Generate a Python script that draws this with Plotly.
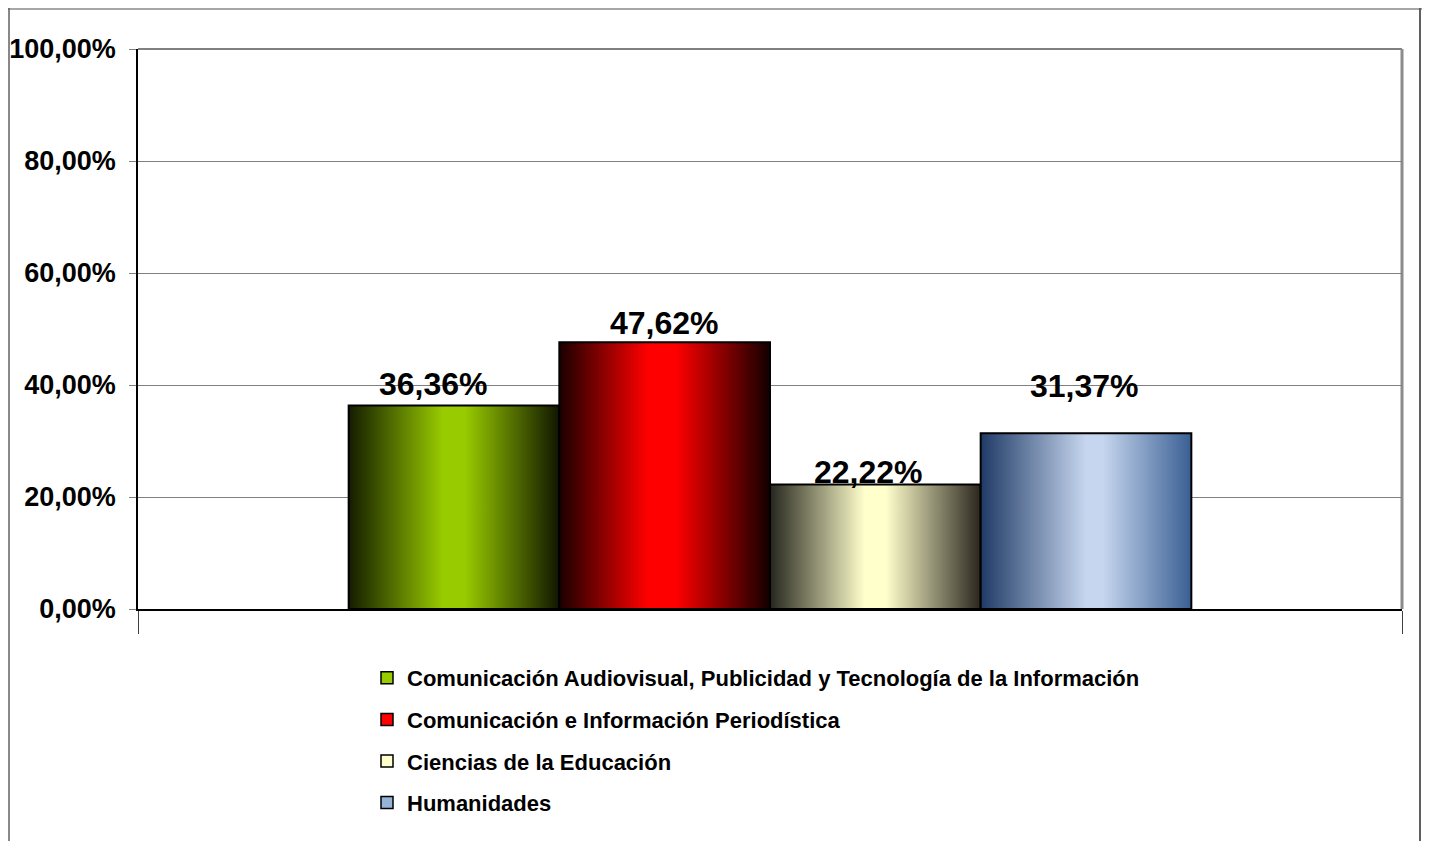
import plotly.graph_objects as go

# series (one category, four programmes)
series = [
    "Comunicación Audiovisual, Publicidad y Tecnología de la Información",
    "Comunicación e Información Periodística",
    "Ciencias de la Educación",
    "Humanidades",
]
values = [0.3636, 0.4762, 0.2222, 0.3137]

# dark edge -> light middle -> dark edge, like the Excel gradient fill
gradients = [
    [[0, "#141c00"], [0.45, "#99cc00"], [0.55, "#99cc00"], [1, "#101600"]],
    [[0, "#1a0000"], [0.42, "#ff0000"], [0.55, "#ff0000"], [1, "#120000"]],
    [[0, "#26261e"], [0.45, "#ffffcc"], [0.55, "#ffffcc"], [1, "#2a261e"]],
    [[0, "#1f3a66"], [0.5, "#c6d6ee"], [0.58, "#c6d6ee"], [1, "#3a5f94"]],
]
legend_colors = ["#99cc00", "#ff0000", "#ffffcc", "#95b3d7"]
label_shift = [(-21, 21), (0, 19), (-7, 13), (-2, 47)]

FONT = "Liberation Sans, Arial, sans-serif"

n = len(series)
w = 1.0 / (n + 2)   # bar width, one bar-width gap on each side of the group

fig = go.Figure()

for i, (name, v) in enumerate(zip(series, values)):
    x0 = w * (i + 1)
    x1 = x0 + w
    fig.add_trace(go.Scatter(
        x=[x0, x0, x1, x1, x0], y=[0, v, v, 0, 0],
        mode="lines", fill="toself",
        fillgradient=dict(type="horizontal", colorscale=gradients[i]),
        line=dict(color="black", width=2),
        showlegend=False, hoverinfo="skip",
    ))
    dx, dy = label_shift[i]
    fig.add_annotation(
        x=(x0 + x1) / 2, y=v, text=f"{v*100:.2f}%".replace(".", ","),
        showarrow=False, yanchor="middle", xshift=dx, yshift=dy,
        font=dict(family=FONT, size=32, color="black", weight="bold"),
    )

# legend entries
for i, name in enumerate(series):
    fig.add_trace(go.Bar(
        x=[None], y=[None], name=name, legendgroup=str(i),
        marker=dict(color=legend_colors[i], line=dict(color="black", width=1.5)),
    ))

# page has an 8px body margin, so figure coords = page coords - 8
W, H = 1414, 833
PW, PH, L, T = 1264, 560, 130, 41
def px(x):
    return (x - L) / PW
def py(y):
    return (T + PH - y) / PH

shapes = [
    # chart area border
    dict(type="line", xref="paper", yref="paper", x0=px(0), x1=px(1416), y0=py(1), y1=py(1),
         line=dict(color="#a6a6a6", width=2)),
    dict(type="line", xref="paper", yref="paper", x0=px(1), x1=px(1), y0=py(0), y1=py(H),
         line=dict(color="#606060", width=1.5)),
    dict(type="line", xref="paper", yref="paper", x0=px(1412), x1=px(1412), y0=py(0), y1=py(H),
         line=dict(color="#606060", width=2)),
    # plot area border
    dict(type="line", xref="paper", yref="paper", x0=0, x1=1, y0=1, y1=1,
         line=dict(color="#808080", width=2), layer="below"),
    dict(type="line", xref="paper", yref="paper", x0=1, x1=1, y0=0, y1=1,
         line=dict(color="#8c8c8c", width=3), layer="below"),
]

fig.update_layout(
    width=W, height=H,
    margin=dict(l=L, r=W - L - PW, t=T, b=H - T - PH, autoexpand=False),
    paper_bgcolor="white", plot_bgcolor="white",
    separators=",.",
    font=dict(family=FONT, color="black"),
    showlegend=True,
    legend=dict(
        x=px(359), xanchor="left", y=py(649), yanchor="top",
        traceorder="grouped", tracegroupgap=10,
        font=dict(family=FONT, size=22, color="black", weight="bold"),
        itemclick=False, itemdoubleclick=False,
    ),
    shapes=shapes,
    bargap=0,
)
fig.update_xaxes(
    range=[0, 1], showgrid=False, zeroline=False, automargin=False,
    showline=True, linecolor="black", linewidth=2,
    tickvals=[0, 1], ticks="outside", ticklen=23, tickcolor="#404040", tickwidth=1,
    showticklabels=False, fixedrange=True,
)
fig.update_yaxes(
    range=[0, 1], tickvals=[0, 0.2, 0.4, 0.6, 0.8, 1.0], tickformat=".2%",
    showgrid=True, gridcolor="#808080", gridwidth=1, zeroline=False, automargin=False,
    showline=True, linecolor="black", linewidth=1.5,
    ticks="outside", ticklen=7, tickcolor="#808080",
    ticklabelstandoff=8,
    tickfont=dict(family=FONT, size=27, color="black", weight="bold"),
    fixedrange=True,
)

fig.write_html("out.html")
